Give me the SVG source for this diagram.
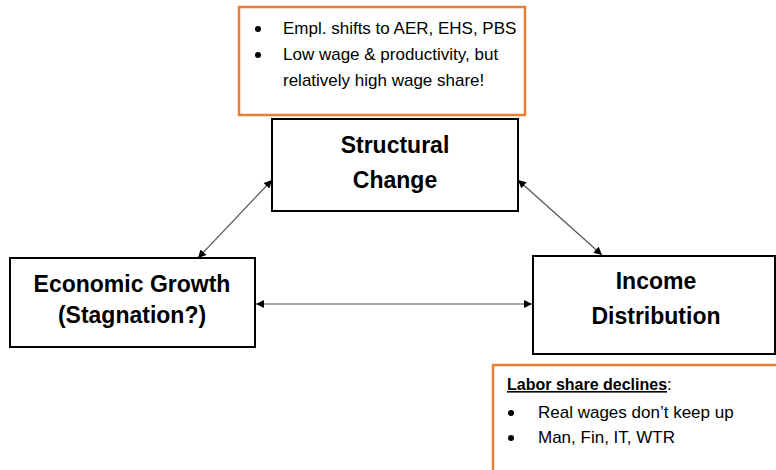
<svg xmlns="http://www.w3.org/2000/svg" width="776" height="470" viewBox="0 0 776 470">
<style>
.box{fill:#fff;stroke:#000;stroke-width:2}
.note{fill:#fff;stroke:#ED7D31;stroke-width:2.5}
.title{font-family:"Liberation Sans",Arial,sans-serif;font-weight:bold;font-size:23px;fill:#000;text-anchor:middle}
.txt{font-family:"Liberation Sans",Arial,sans-serif;font-size:17px;fill:#000}
.conn{stroke:#555;stroke-width:1.2;fill:none;marker-start:url(#ah);marker-end:url(#ah)}
</style>
<defs>
<marker id="ah" viewBox="0 0 10 10" refX="10" refY="5" markerWidth="10" markerHeight="8" markerUnits="userSpaceOnUse" orient="auto-start-reverse">
<path d="M0,0 L10,5 L0,10 z" fill="#000"/>
</marker>
</defs>
<rect width="776" height="470" fill="#fff"/>
<g id="connectors">
<line class="conn" x1="272" y1="180" x2="198" y2="258"/>
<line class="conn" x1="518" y1="180" x2="602" y2="255"/>
<line class="conn" x1="256" y1="304" x2="532" y2="304"/>
</g>
<g id="note-top">
<rect class="note" x="239" y="7" width="286" height="108"/>
<circle cx="258" cy="29" r="3"/>
<circle cx="258" cy="55" r="3"/>
<text class="txt" x="283" y="34">Empl. shifts to AER, EHS, PBS</text>
<text class="txt" x="283" y="60">Low wage &amp; productivity, but</text>
<text class="txt" x="283" y="86">relatively high wage share!</text>
</g>
<g id="structural-change">
<rect class="box" x="272" y="119" width="246" height="92"/>
<text class="title" x="395" y="153">Structural</text>
<text class="title" x="395" y="188">Change</text>
</g>
<g id="economic-growth">
<rect class="box" x="10" y="258" width="245" height="89"/>
<text class="title" x="132" y="292">Economic Growth</text>
<text class="title" x="132" y="323">(Stagnation?)</text>
</g>
<g id="income-distribution">
<rect class="box" x="533" y="256" width="242" height="98"/>
<text class="title" x="656" y="289">Income</text>
<text class="title" x="656" y="324">Distribution</text>
</g>
<g id="note-bottom">
<rect class="note" x="493" y="365" width="300" height="120"/>
<text class="txt" x="507" y="390"><tspan font-weight="bold" font-size="16" text-decoration="underline">Labor share declines</tspan>:</text>
<circle cx="511" cy="413" r="3"/>
<circle cx="511" cy="438" r="3"/>
<text class="txt" x="538" y="418">Real wages don’t keep up</text>
<text class="txt" x="538" y="443">Man, Fin, IT, WTR</text>
</g>
</svg>
